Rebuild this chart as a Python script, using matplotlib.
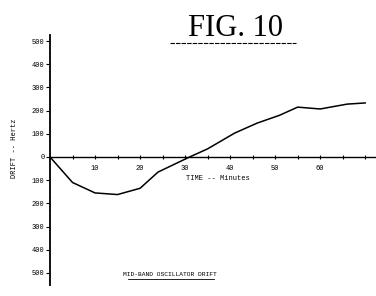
import matplotlib.pyplot as plt
import numpy as np

# data
minutes = [0, 5, 10, 15, 20, 24, 31, 35, 41, 46, 51, 55, 60, 66, 70]
drift_hz = [0, -110, -155, -162, -135, -65, 0, 35, 103, 146, 180, 215, 207, 228, 233]

y_ticks = [-500, -400, -300, -200, -100, 0, 100, 200, 300, 400, 500]
x_ticks = [10, 20, 30, 40, 50, 60]

mono = 'Liberation Mono'

fig = plt.figure(figsize=(3.76, 2.96), dpi=100)
ax = fig.add_axes([50 / 376, 11 / 296, 326 / 376, 250 / 296])
ax.plot(minutes, drift_hz, color='black', lw=1.1)

ax.set_xlim(0, 72.4)
ax.set_ylim(-552, 526)

for s in ['top', 'right']:
    ax.spines[s].set_visible(False)
ax.spines['left'].set_position(('data', 0))
ax.spines['bottom'].set_position(('data', 0))
ax.spines['left'].set_linewidth(1.3)
ax.spines['bottom'].set_linewidth(1.0)

ax.set_yticks(y_ticks)
ax.set_yticklabels([str(abs(v)) for v in y_ticks], fontsize=5, family=mono)
ax.set_yticks(np.arange(-550, 530, 20), minor=True)
ax.set_xticks(x_ticks)
ax.set_xticklabels([str(v) for v in x_ticks], fontsize=5, family=mono)
ax.set_xticks(np.arange(5, 72, 5), minor=True)
ax.tick_params(axis='y', which='major', length=3, width=0.8, pad=1)
ax.tick_params(axis='y', which='minor', length=1, width=0.5)
ax.tick_params(axis='x', which='both', direction='inout', length=3, width=0.8, pad=4)

fig.text(15 / 376, 1 - 148 / 296, 'DRIFT -- Hertz', rotation=90, fontsize=5,
         family=mono, ha='center', va='center')
fig.text(218 / 376, 1 - 178 / 296, 'TIME -- Minutes', fontsize=5,
         family=mono, ha='center', va='center')

# title
fig.text(235 / 376, 1 - 29 / 296, 'FIG. 10', fontsize=22, family='Liberation Serif',
         ha='center', va='center')
fig.add_artist(plt.Line2D([170 / 376, 296 / 376], [1 - 43 / 296, 1 - 43 / 296],
                          color='black', lw=0.8, ls=(0, (4, 1))))

# caption
fig.text(170 / 376, 1 - 275 / 296, 'MID-BAND OSCILLATOR DRIFT', fontsize=4.5,
         family=mono, ha='center', va='center')
fig.add_artist(plt.Line2D([128 / 376, 214 / 376], [1 - 279 / 296, 1 - 279 / 296],
                          color='black', lw=0.6))

fig.savefig('out.png', dpi=100)
